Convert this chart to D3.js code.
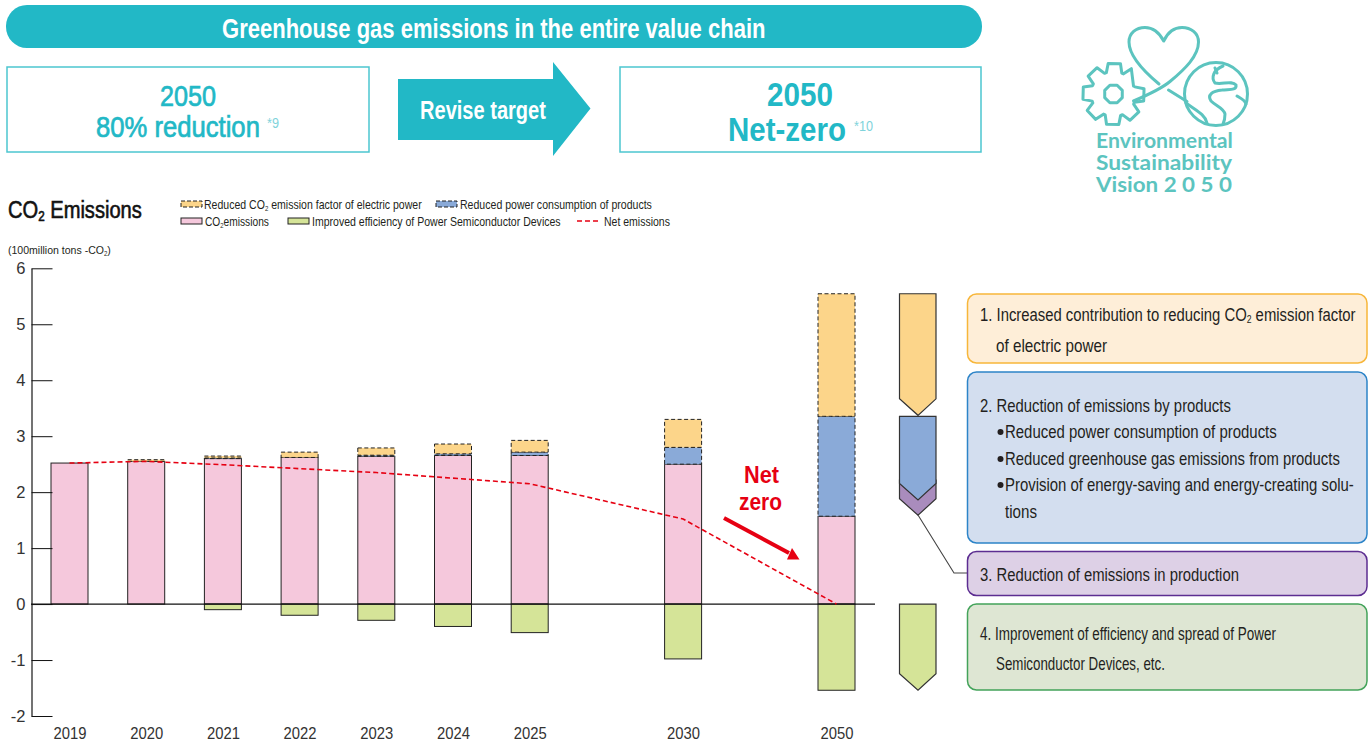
<!DOCTYPE html>
<html>
<head>
<meta charset="utf-8">
<script src="https://cdnjs.cloudflare.com/ajax/libs/d3/7.8.5/d3.min.js"></script>
<style>
	html, body { margin: 0; padding: 0; background: #fff; }
	svg { display: block; }
	text { font-family: "Liberation Sans Narrow", "Liberation Sans", Roboto, sans-serif; }
</style>
</head>
<body>
<svg id="chart" width="1370" height="745"></svg>
<script>
const categories = ['2019', '2020', '2021', '2022', '2023', '2024', '2025', '2030', '2050'];
const slots = ['2019', '2020', '2021', '2022', '2023', '2024', '2025', 'gap1', '2030', 'gap2', '2050'];
const co2Emissions = [2.52, 2.55, 2.60, 2.62, 2.64, 2.655, 2.655, 2.50, 1.57];
const productPower = [0, 0, 0.01, 0, 0.02, 0.03, 0.06, 0.30, 1.785];
const electricFactor = [0, 0.03, 0.035, 0.095, 0.13, 0.175, 0.21, 0.50, 2.19];
const semiconductors = [0, 0, -0.1, -0.2, -0.29, -0.4, -0.51, -0.98, -1.54];
const netEmissions = [2.52, 2.55, 2.49, 2.42, 2.35, 2.25, 2.15, 1.52, 0];
const yTicks = [-2, -1, 0, 1, 2, 3, 4, 5, 6];
// levels of the 2050 breakdown arrows at the right of the chart
const breakdownLevels = [5.545, 3.355, 1.86, 1.57];

const colors = { teal: '#22b8c6', orange: '#fcd58a', blue: '#8aaad8', pink: '#f5c8dc', green: '#d5e498', purple: '#a98cbd', red: '#e60012', text: '#231f20', logo: '#5cc4bf' };

const svg = d3.select('#chart');
const x = d3.scalePoint().domain(slots).range([69.5, 836.5]);
const y = d3.scaleLinear().domain([-2, 6]).range([716, 268.3]);
const barWidth = 37;

// text helper, scales the text sideways to the measured width
const label = function(parent, str, px, py, size, width, opts={})
{
	const t = parent.append('text')
		.attr('font-size', size)
		.attr('font-weight', opts.weight || 'normal')
		.attr('fill', opts.fill || colors.text);
	if(opts.family) t.style('font-family', opts.family);
	if(opts.medium) t.attr('stroke', opts.fill || colors.text).attr('stroke-width', opts.medium);
	if(opts.sub)
	{
		// str is split round the subscript 2
		const parts = str.split('CO2');
		t.append('tspan').text(parts[0] + 'CO');
		t.append('tspan').attr('font-size', size * 0.58).attr('dy', size * 0.14).text('2');
		t.append('tspan').attr('dy', -size * 0.14).text(parts[1]);
	}
	else
	{
		t.text(str);
	}
	const natural = t.node().getComputedTextLength();
	t.attr('transform', 'translate(' + px + ',' + py + ') scale(' + (width / natural) + ',1)');
	return t;
};

/* header */
const head = svg.append('g');
head.append('rect').attr('x', 6).attr('y', 5).attr('width', 976).attr('height', 43).attr('rx', 21).attr('fill', colors.teal);
label(head, 'Greenhouse gas emissions in the entire value chain', 222, 38, 27, 544, { weight: 'bold', fill: '#fff' });
[[7, 362], [620, 361]].forEach(function(b){
	head.append('rect').attr('x', b[0]).attr('y', 67).attr('width', b[1]).attr('height', 85).attr('fill', '#fff').attr('stroke', '#4cc6d0').attr('stroke-width', 1.5);
});
label(head, '2050', 160, 105.5, 30, 56, { fill: colors.teal, medium: 0.7 });
label(head, '80% reduction', 96, 137, 29.5, 164, { fill: colors.teal, medium: 0.7 });
label(head, '*9', 267, 128, 14, 12, { fill: '#7fd3db' });
label(head, '2050', 767, 106, 34, 66, { weight: 'bold', fill: colors.teal });
label(head, 'Net-zero', 728, 141, 34, 118, { weight: 'bold', fill: colors.teal });
label(head, '*10', 854, 131, 14, 19, { fill: '#7fd3db' });
head.append('path').attr('d', 'M398,79H553V62L590.5,108.5L553,156V140H398Z').attr('fill', colors.teal);
label(head, 'Revise target', 420, 119, 25, 126, { weight: 'bold', fill: '#fff' });

/* logo */
const logo = svg.append('g').attr('fill', 'none').attr('stroke', colors.logo).attr('stroke-width', 3).attr('stroke-linecap', 'round').attr('stroke-linejoin', 'round');
logo.append('path').attr('d', 'M1133.5,101C1150,94 1161,89 1170,81.5C1185,69 1198.5,56 1198.5,42C1198.5,33 1191,27.5 1182,27.5C1173,27.5 1167,34 1163.7,41C1160,34 1154,27.5 1145,27.5C1136,27.5 1129,33 1129,42C1129,57 1147,74 1159,84');
logo.append('path').attr('d', 'M1168.5,90L1187,101.5');
logo.append('circle').attr('cx', 1216).attr('cy', 94).attr('r', 31.5);
logo.append('path').attr('d', 'M1223,66C1213,70 1211,78 1215,83C1222,85 1232,80 1236,85C1237,91 1228,89 1222,90C1212,91 1207,95 1211,101C1216,106 1224,108 1225,114C1225,118 1224,122 1223,124');
logo.append('path').attr('d', 'M1186,103C1195,110 1205,114 1207,123');
logo.append('path').attr('d', 'M1237,96C1240,98 1245,100 1246,104');
logo.append('path').attr('d', 'M1215,68L1217,73');
// gear outline, open on the side where the heart line runs in
const gearCx = 1113.5, gearCy = 94;
const gearPoints = [];
for(let tooth = 0; tooth < 8; tooth++)
{
	const a = -Math.PI / 4 * 0.5 + 0.42 + tooth * Math.PI / 4;
	[[-0.35, 22.5], [-0.2, 31], [0.2, 31], [0.35, 22.5]].forEach(function(p){
		gearPoints.push([gearCx + p[1] * Math.cos(a + p[0]), gearCy + p[1] * Math.sin(a + p[0])]);
	});
}
logo.append('path').attr('d', d3.line()(gearPoints.slice(0, 30).concat([[1133.5, 86]])));
logo.append('path').attr('d', d3.line().curve(d3.curveLinearClosed)(d3.range(8).map(function(i){
	const a = Math.PI / 8 + i * Math.PI / 4;
	return [gearCx + 9.5 * Math.cos(a), gearCy + 9.5 * Math.sin(a)];
})));
const logoFont = 'Lato, "DejaVu Sans", sans-serif';
label(svg, 'Environmental', 1096, 147.5, 20, 137, { weight: 'bold', fill: colors.logo, family: logoFont });
label(svg, 'Sustainability', 1096, 169.5, 20, 136, { weight: 'bold', fill: colors.logo, family: logoFont });
label(svg, 'Vision 2 0 5 0', 1096, 191.5, 20, 136, { weight: 'bold', fill: colors.logo, family: logoFont });

/* title and legend */
label(svg, 'CO2 Emissions', 8, 218, 24, 134, { sub: true, fill: '#111', medium: 0.6 });
label(svg, '(100million tons -CO2)', 8, 254, 11.5, 103, { sub: true });

const legendItems = [
	{ fill: colors.orange, dash: '4,2', sx: 181, sy: 201, tx: 204, ty: 209, w: 218, text: 'Reduced CO2 emission factor of electric power', sub: true },
	{ fill: colors.blue, dash: '4,2', sx: 436, sy: 201, tx: 460, ty: 209, w: 192, text: 'Reduced power consumption of products' },
	{ fill: colors.pink, dash: null, sx: 181, sy: 218, tx: 205, ty: 226, w: 64, text: 'CO2emissions', sub: true },
	{ fill: colors.green, dash: null, sx: 288, sy: 218, tx: 312, ty: 226, w: 249, text: 'Improved efficiency of Power Semiconductor Devices' }
];
legendItems.forEach(function(d){
	svg.append('rect').attr('x', d.sx).attr('y', d.sy).attr('width', 21).attr('height', 6)
		.attr('fill', d.fill).attr('stroke', '#222').attr('stroke-width', 1).attr('stroke-dasharray', d.dash);
	label(svg, d.text, d.tx, d.ty, 12, d.w, { sub: d.sub });
});
svg.append('line').attr('x1', 577).attr('x2', 598).attr('y1', 221).attr('y2', 221).attr('stroke', colors.red).attr('stroke-width', 1.5).attr('stroke-dasharray', '5,3');
label(svg, 'Net emissions', 604, 226, 12, 66);

/* bars */
const stackRows = categories.map(function(c, i){
	return { year: c, co2: co2Emissions[i], product: productPower[i], factor: electricFactor[i] };
});
const stacked = d3.stack().keys(['co2', 'product', 'factor'])(stackRows);
const stackStyle = { co2: [colors.pink, null], product: [colors.blue, '4,2.5'], factor: [colors.orange, '4,2.5'] };
const plot = svg.append('g');

stacked.forEach(function(layer){
	plot.append('g').selectAll('rect')
		.data(layer.filter(function(d){ return d[1] - d[0] > 0; }))
		.join('rect')
		.attr('x', function(d){ return x(d.data.year) - barWidth / 2; })
		.attr('y', function(d){ return y(d[1]); })
		.attr('width', barWidth)
		.attr('height', function(d){ return y(d[0]) - y(d[1]); })
		.attr('fill', stackStyle[layer.key][0])
		.attr('stroke', '#222')
		.attr('stroke-width', 1)
		.attr('stroke-dasharray', stackStyle[layer.key][1]);
});

plot.append('g').selectAll('rect')
	.data(categories.filter(function(c, i){ return semiconductors[i] < 0; }))
	.join('rect')
	.attr('x', function(c){ return x(c) - barWidth / 2; })
	.attr('y', y(0))
	.attr('width', barWidth)
	.attr('height', function(c){ return y(semiconductors[categories.indexOf(c)]) - y(0); })
	.attr('fill', colors.green)
	.attr('stroke', '#222')
	.attr('stroke-width', 1);

/* axes */
const yAxis = svg.append('g')
	.attr('transform', 'translate(31.5,0)')
	.call(d3.axisLeft(y).tickValues(yTicks).tickFormat(String).tickSizeInner(-21).tickSizeOuter(0).tickPadding(6));
yAxis.select('.domain').attr('stroke', '#444').attr('stroke-width', 1.5);
yAxis.selectAll('line').attr('stroke', '#111');
yAxis.selectAll('text').attr('font-size', 16.5).attr('fill', '#333').style('font-family', '"Liberation Sans", sans-serif');

const xAxis = svg.append('g')
	.attr('transform', 'translate(0,' + y(-2) + ')')
	.call(d3.axisBottom(x).tickValues(categories).tickSize(0).tickPadding(11));
xAxis.select('.domain').remove();
xAxis.selectAll('text').attr('font-size', 16.5).attr('fill', '#333').style('font-family', '"Liberation Sans", sans-serif');
xAxis.selectAll('text').attr('transform', function(){
	return 'scale(' + (33 / this.getComputedTextLength()) + ',1)';
});

svg.append('line').attr('x1', 31).attr('x2', 875).attr('y1', y(0)).attr('y2', y(0)).attr('stroke', '#111').attr('stroke-width', 1.2);

/* net emissions line */
const netLine = d3.line()
	.x(function(d){ return x(d.year); })
	.y(function(d){ return y(d.value); });
svg.append('path')
	.attr('d', netLine(categories.map(function(c, i){ return { year: c, value: netEmissions[i] }; })))
	.attr('fill', 'none')
	.attr('stroke', colors.red)
	.attr('stroke-width', 1.6)
	.attr('stroke-dasharray', '5,3');

/* net zero note */
label(svg, 'Net', 744, 483, 24, 35, { weight: 'bold', fill: colors.red });
label(svg, 'zero', 739, 510, 24, 43, { weight: 'bold', fill: colors.red });
svg.append('line').attr('x1', 724).attr('y1', 518).attr('x2', 789).attr('y2', 553).attr('stroke', colors.red).attr('stroke-width', 4);
svg.append('path').attr('d', 'M799.5,559.5L787,559.5L792,548Z').attr('fill', colors.red);

/* 2050 breakdown arrows */
const arrowLeft = 899.5, arrowRight = 936, arrowMid = 918, notch = 16.5;
const arrowPath = function(top, bottom)
{
	return 'M' + arrowLeft + ',' + top + 'H' + arrowRight + 'V' + (bottom - notch) + 'L' + arrowMid + ',' + bottom + 'L' + arrowLeft + ',' + (bottom - notch) + 'Z';
};
const arrows = svg.append('g').attr('stroke', '#333').attr('stroke-width', 1.2);
arrows.append('path').attr('d', arrowPath(y(breakdownLevels[0]), y(breakdownLevels[1]) - 1)).attr('fill', colors.orange);
arrows.append('path').attr('d', arrowPath(y(breakdownLevels[2]) - 20, y(breakdownLevels[3]) - 1)).attr('fill', colors.purple);
arrows.append('path').attr('d', arrowPath(y(breakdownLevels[1]), y(breakdownLevels[2]))).attr('fill', colors.blue);
arrows.append('path').attr('d', arrowPath(y(0), y(semiconductors[8]))).attr('fill', colors.green);
svg.append('path').attr('d', 'M918,515L954,573H967').attr('fill', 'none').attr('stroke', '#444').attr('stroke-width', 1.1);

/* explanation boxes */
const boxes = [
	{ y: 294, h: 69, fill: '#feeed8', stroke: '#f7b63a' },
	{ y: 372, h: 171, fill: '#d3deef', stroke: '#2c84c8' },
	{ y: 551.5, h: 44, fill: '#ddd0e6', stroke: '#5c2d91' },
	{ y: 604, h: 86, fill: '#dee6d3', stroke: '#43a35a' }
];
boxes.forEach(function(b){
	svg.append('rect').attr('x', 967.5).attr('y', b.y).attr('width', 399.5).attr('height', b.h).attr('rx', 9)
		.attr('fill', b.fill).attr('stroke', b.stroke).attr('stroke-width', 1.5);
});
const boxLines = [
	['1. Increased contribution to reducing CO2 emission factor', 980, 321, 376, true],
	['of electric power', 996, 352, 111],
	['2. Reduction of emissions by products', 980, 412, 251],
	['Reduced power consumption of products', 1005, 438, 272],
	['Reduced greenhouse gas emissions from products', 1005, 465, 335],
	['Provision of energy-saving and energy-creating solu-', 1005, 491, 349],
	['tions', 1005, 518, 32],
	['3. Reduction of emissions in production', 980, 581, 259],
	['4. Improvement of efficiency and spread of Power', 980, 640, 296],
	['Semiconductor Devices, etc.', 996, 670, 169]
];
boxLines.forEach(function(l){
	label(svg, l[0], l[1], l[2], 17.5, l[3], { sub: l[4] });
});
[432, 459, 485].forEach(function(by){
	svg.append('circle').attr('cx', 1000.5).attr('cy', by).attr('r', 3).attr('fill', colors.text);
});
</script>
</body>
</html>
